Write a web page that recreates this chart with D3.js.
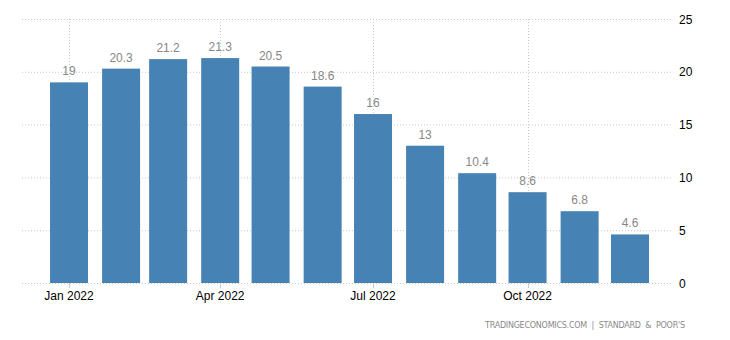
<!DOCTYPE html>
<html><head><meta charset="utf-8">
<script src="https://cdn.jsdelivr.net/npm/d3@7"></script>
<style>
body{margin:0;background:#fff;}
svg{display:block;font-family:"Liberation Sans",Arial,sans-serif;}
</style></head>
<body><svg id="c" width="730" height="340"></svg>
<script>
const months = ["2022-01","2022-02","2022-03","2022-04","2022-05","2022-06","2022-07","2022-08","2022-09","2022-10","2022-11","2022-12"];
const values = [19,20.3,21.2,21.3,20.5,18.6,16,13,10.4,8.6,6.8,4.6];
const yTicks = [0,5,10,15,20,25];
const xTickMonths = ["2022-01","2022-04","2022-07","2022-10"];
const sourceText = "TRADINGECONOMICS.COM  |  STANDARD  &  POOR'S";

const parse = d3.utcParse("%Y-%m");
const svg = d3.select("#c");
const x = d3.scaleUtc().domain([new Date(Date.UTC(2021,11,4)), new Date(Date.UTC(2022,11,26))]).range([22,672]);
const y = d3.scaleLinear().domain([0,25]).range([283,19]);
const bw = 38;

// horizontal grid
svg.append("g").selectAll("line").data(yTicks).join("line")
  .attr("x1",22).attr("x2",672)
  .attr("y1",d=>y(d)+0.5).attr("y2",d=>y(d)+0.5)
  .attr("stroke","#c8c8c8").attr("stroke-dasharray","1,2");
// vertical grid
const xt = xTickMonths.map(parse);
svg.append("g").selectAll("line").data(xt).join("line")
  .attr("x1",d=>Math.round(x(d))+0.5).attr("x2",d=>Math.round(x(d))+0.5)
  .attr("y1",y(25)).attr("y2",y(0))
  .attr("stroke","#c8c8c8").attr("stroke-dasharray","1,2");
// ticks
svg.append("g").selectAll("line").data(xt).join("line")
  .attr("x1",d=>Math.round(x(d))+0.5).attr("x2",d=>Math.round(x(d))+0.5)
  .attr("y1",y(0)).attr("y2",y(0)+5)
  .attr("stroke","#c8c8c8");

// bars
const data = months.map((m,i)=>({d:parse(m),v:values[i]}));
svg.append("g").selectAll("rect").data(data).join("rect")
  .attr("x",d=>x(d.d)-bw/2).attr("width",bw)
  .attr("y",d=>y(d.v)).attr("height",d=>y(0)-y(d.v))
  .attr("fill","#4682b4");
// value labels
svg.append("g").selectAll("text").data(data).join("text")
  .attr("x",d=>x(d.d)).attr("y",d=>y(d.v)-7)
  .attr("text-anchor","middle").attr("font-size",12).attr("fill","#878787")
  .text(d=>d.v);

// y labels
svg.append("g").selectAll("text").data(yTicks).join("text")
  .attr("x",679).attr("y",d=>y(d)+4.5)
  .attr("font-size",12).attr("fill","#000").text(d=>d);
// x labels
const fmt = d3.utcFormat("%b %Y");
svg.append("g").selectAll("text").data(xt).join("text")
  .attr("x",d=>x(d)).attr("y",y(0)+17)
  .attr("text-anchor","middle").attr("font-size",12).attr("fill","#000")
  .text(d=>fmt(d));
// source
svg.append("text").attr("x",485).attr("y",328)
  .attr("font-family","'DejaVu Sans',sans-serif")
  .attr("font-size",8).attr("fill","#8a8a8a").style("white-space","pre")
  .attr("textLength",200).attr("lengthAdjust","spacing")
  .text(sourceText);
</script></body></html>
